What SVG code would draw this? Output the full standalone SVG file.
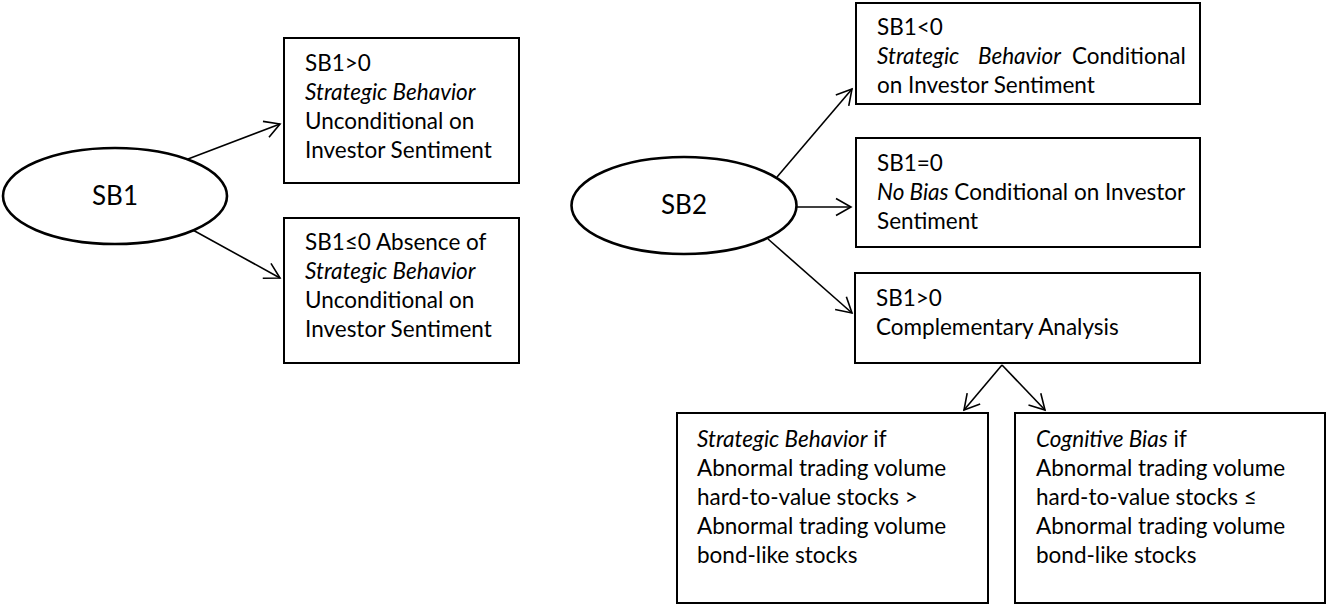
<svg xmlns="http://www.w3.org/2000/svg" width="1328" height="606" viewBox="0 0 1328 606">
  <style>
    .box { fill: #fff; stroke: #000; stroke-width: 2; }
    .ell { fill: #fff; stroke: #000; stroke-width: 2.6; }
    .t { font-family: Lato, "Liberation Sans", sans-serif; font-size: 22.5px; fill: #000; }
    .lbl { font-family: Lato, "Liberation Sans", sans-serif; font-size: 26px; fill: #000; text-anchor: middle; }
    .i { font-style: italic; }
    .conn { stroke: #000; stroke-width: 1.6; fill: none; marker-end: url(#arr); }
  </style>
  <defs>
    <marker id="arr" markerUnits="userSpaceOnUse" markerWidth="20" markerHeight="20" viewBox="-17 -10 20 20" refX="0" refY="0" orient="auto">
      <path d="M-15,-8.5 L0,0 L-15,8.5" fill="none" stroke="#000" stroke-width="1.6"/>
    </marker>
  </defs>

  <g id="connectors">
    <line class="conn" x1="188" y1="159" x2="280" y2="124"/>
    <line class="conn" x1="191" y1="229" x2="280" y2="278"/>
    <line class="conn" x1="777" y1="177" x2="852" y2="89"/>
    <line class="conn" x1="796" y1="207" x2="851" y2="207"/>
    <line class="conn" x1="768" y1="239" x2="852" y2="313"/>
    <line class="conn" x1="1002" y1="365" x2="964" y2="410"/>
    <line class="conn" x1="1002" y1="365" x2="1045" y2="410"/>
  </g>

  <g id="sb1">
    <ellipse class="ell" cx="115" cy="196" rx="112" ry="48"/>
    <text class="lbl" x="115" y="205">SB1</text>
  </g>

  <g id="sb1-pos">
    <rect class="box" x="284" y="38" width="235" height="145"/>
    <text class="t" x="305" y="71">SB1&gt;0</text>
    <text class="t i" x="305" y="100">Strategic Behavior</text>
    <text class="t" x="305" y="129">Unconditional on</text>
    <text class="t" x="305" y="158">Investor Sentiment</text>
  </g>

  <g id="sb1-neg">
    <rect class="box" x="284" y="218" width="235" height="145"/>
    <text class="t" x="305" y="250">SB1≤0 Absence of</text>
    <text class="t i" x="305" y="279">Strategic Behavior</text>
    <text class="t" x="305" y="308">Unconditional on</text>
    <text class="t" x="305" y="337">Investor Sentiment</text>
  </g>

  <g id="sb2">
    <ellipse class="ell" cx="684" cy="205.5" rx="112.5" ry="48.5"/>
    <text class="lbl" x="684" y="214">SB2</text>
  </g>

  <g id="sb2-neg">
    <rect class="box" x="856" y="3" width="344" height="101"/>
    <text class="t" x="877" y="35">SB1&lt;0</text>
    <text class="t"><tspan class="i" x="877" y="64">Strategic</tspan><tspan class="i" x="978" y="64">Behavior</tspan><tspan x="1072" y="64">Conditional</tspan></text>
    <text class="t" x="877" y="93">on Investor Sentiment</text>
  </g>

  <g id="sb2-zero">
    <rect class="box" x="856" y="138" width="344" height="109"/>
    <text class="t" x="877" y="171">SB1=0</text>
    <text class="t" x="877" y="200"><tspan class="i">No Bias</tspan> Conditional on Investor</text>
    <text class="t" x="877" y="229">Sentiment</text>
  </g>

  <g id="sb2-pos">
    <rect class="box" x="855" y="273" width="345" height="90"/>
    <text class="t" x="876" y="306">SB1&gt;0</text>
    <text class="t" x="876" y="335">Complementary Analysis</text>
  </g>

  <g id="strategic">
    <rect class="box" x="677" y="413" width="311" height="190"/>
    <text class="t" x="697" y="447"><tspan class="i">Strategic Behavior</tspan> if</text>
    <text class="t" x="697" y="476">Abnormal trading volume</text>
    <text class="t" x="697" y="505">hard-to-value stocks &gt;</text>
    <text class="t" x="697" y="534">Abnormal trading volume</text>
    <text class="t" x="697" y="563">bond-like stocks</text>
  </g>

  <g id="cognitive">
    <rect class="box" x="1015" y="413" width="310" height="190"/>
    <text class="t" x="1036" y="447"><tspan class="i">Cognitive Bias</tspan> if</text>
    <text class="t" x="1036" y="476">Abnormal trading volume</text>
    <text class="t" x="1036" y="505">hard-to-value stocks ≤</text>
    <text class="t" x="1036" y="534">Abnormal trading volume</text>
    <text class="t" x="1036" y="563">bond-like stocks</text>
  </g>
</svg>
